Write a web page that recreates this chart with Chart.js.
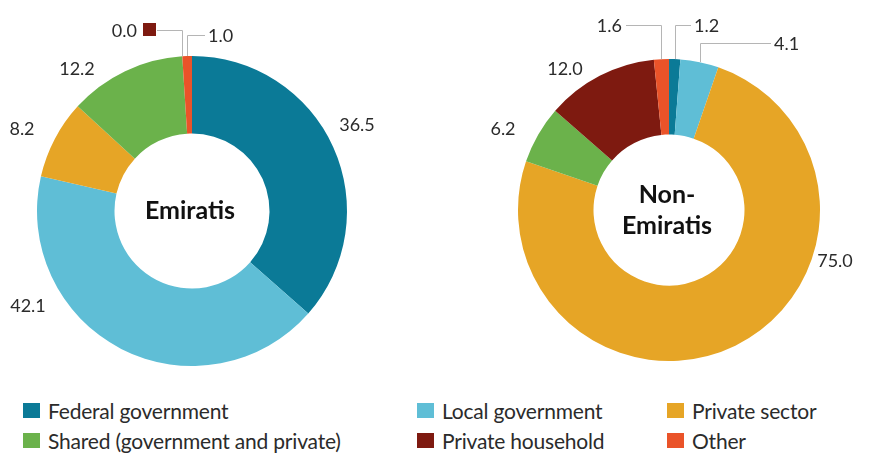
<!DOCTYPE html>
<html><head><meta charset="utf-8">
<script src="https://cdn.jsdelivr.net/npm/chart.js@4"></script>
<style>
body{margin:0;background:#fff;width:869px;height:453px;overflow:hidden;position:relative;font-family:Lato,sans-serif;}
canvas{position:absolute;top:0;}
#c1{left:0}
#c2{left:434px}
.sq{position:absolute;width:17px;height:15px}
.lt{position:absolute;font-size:21px;line-height:21px;color:#2b2b2b;white-space:nowrap;letter-spacing:-0.2px}
</style></head><body>
<canvas id="c1" width="434" height="380"></canvas>
<canvas id="c2" width="435" height="380"></canvas>
<div id="legend"></div>
<script>
const categories = ['Federal government','Local government','Private sector','Shared (government and private)','Private household','Other'];
const emiratisValues = [36.5, 42.1, 8.2, 12.2, 0.0, 1.0];
const nonEmiratisValues = [1.2, 4.1, 75.0, 6.2, 12.0, 1.6];
const emiratisLabels = ['36.5','42.1','8.2','12.2','0.0','1.0'];
const nonEmiratisLabels = ['1.2','4.1','75.0','6.2','12.0','1.6'];
const colors = ['#0b7a97','#5fbed6','#e6a526','#6bb24b','#7e1a10','#ea5329'];

// label placement (styling): plain labels offset from chart centre, or leader lines
const leftPlacement = [
  {type:'plain', dx:165, dy:-86},
  {type:'plain', dx:-164, dy:95},
  {type:'plain', dx:-170, dy:-82},
  {type:'plain', dx:-115, dy:-142},
  {type:'leader', elbowY:30, endX:157, side:'left', marker:true},
  {type:'leader', elbowY:35, endX:205, side:'right'}
];
const rightPlacement = [
  {type:'leader', elbowY:25, endX:691-434, side:'right'},
  {type:'leader', elbowY:43, endX:771-434, side:'right'},
  {type:'plain', dx:166, dy:51},
  {type:'plain', dx:-166, dy:-81},
  {type:'plain', dx:-104, dy:-141},
  {type:'leader', elbowY:25, endX:626-434, side:'left'}
];

const labelPlugin = {
  id:'labels',
  afterDraw(chart, args, opts){
    const ctx = chart.ctx;
    const meta = chart.getDatasetMeta(0);
    const arcs = meta.data;
    const cx = arcs[0].x, cy = arcs[0].y;
    ctx.save();
    ctx.font = '18px Lato';
    ctx.fillStyle = '#2b2b2b';
    ctx.textBaseline = 'middle';
    opts.placement.forEach((p, i) => {
      const a = arcs[i];
      const txt = opts.labels[i];
      if (p.type === 'plain') {
        ctx.textAlign = 'center';
        ctx.fillText(txt, cx + p.dx, cy + p.dy);
      } else {
        const mid = (a.startAngle + a.endAngle) / 2;
        const R = a.outerRadius;
        const sx = cx + R * Math.cos(mid);
        const sy = cy + R * Math.sin(mid);
        ctx.strokeStyle = '#b5b5b5';
        ctx.lineWidth = 1;
        ctx.beginPath();
        ctx.moveTo(Math.round(sx) + 0.5, sy);
        ctx.lineTo(Math.round(sx) + 0.5, p.elbowY + 0.5);
        ctx.lineTo(p.endX, p.elbowY + 0.5);
        ctx.stroke();
        let tx = p.endX;
        if (p.side === 'left') {
          if (p.marker) {
            ctx.fillStyle = colors[i];
            ctx.fillRect(p.endX - 14, p.elbowY - 7, 13, 13);
            ctx.fillStyle = '#2b2b2b';
            tx = p.endX - 20;
          } else tx = p.endX - 4;
          ctx.textAlign = 'right';
          ctx.fillText(txt, tx, p.elbowY + 1);
        } else {
          ctx.textAlign = 'left';
          ctx.fillText(txt, tx + 3, p.elbowY + 1);
        }
      }
    });
    // centre title
    ctx.font = 'bold 25px Lato';
    ctx.fillStyle = '#111';
    ctx.textAlign = 'center';
    const lines = opts.title;
    const lh = 31;
    lines.forEach((l, k) => {
      ctx.fillText(l, cx - 2, cy + (k - (lines.length - 1) / 2) * lh);
    });
    ctx.restore();
  }
};

function makeChart(id, values, labels, placement, title, pad) {
  return new Chart(document.getElementById(id), {
    type:'doughnut',
    data:{labels:categories, datasets:[{data:values, backgroundColor:colors, borderWidth:0}]},
    options:{
      responsive:false, animation:false, cutout:'50%',
      layout:{padding:pad},
      plugins:{legend:{display:false}, tooltip:{enabled:false},
        labels:{labels:labels, placement:placement, title:title}}
    },
    plugins:[labelPlugin]
  });
}
makeChart('c1', emiratisValues, emiratisLabels, leftPlacement, ['Emiratis'], {left:37, right:87, top:56, bottom:14});
makeChart('c2', nonEmiratisValues, nonEmiratisLabels, rightPlacement, ['Non-','Emiratis'], {left:84, right:49, top:59, bottom:19});

// legend
const legendCols = [23, 417, 667];
const legendRows = [403, 433];
const lg = document.getElementById('legend');
categories.forEach((c, i) => {
  const x = legendCols[i % 3], y = legendRows[Math.floor(i / 3)];
  const s = document.createElement('div');
  s.className = 'sq';
  s.style.left = x + 'px';
  s.style.top = y + 'px';
  s.style.background = colors[i];
  lg.appendChild(s);
  const t = document.createElement('div');
  t.className = 'lt';
  t.style.left = (x + 25) + 'px';
  t.style.top = (y - 3) + 'px';
  t.textContent = c;
  lg.appendChild(t);
});
</script>
</body></html>
